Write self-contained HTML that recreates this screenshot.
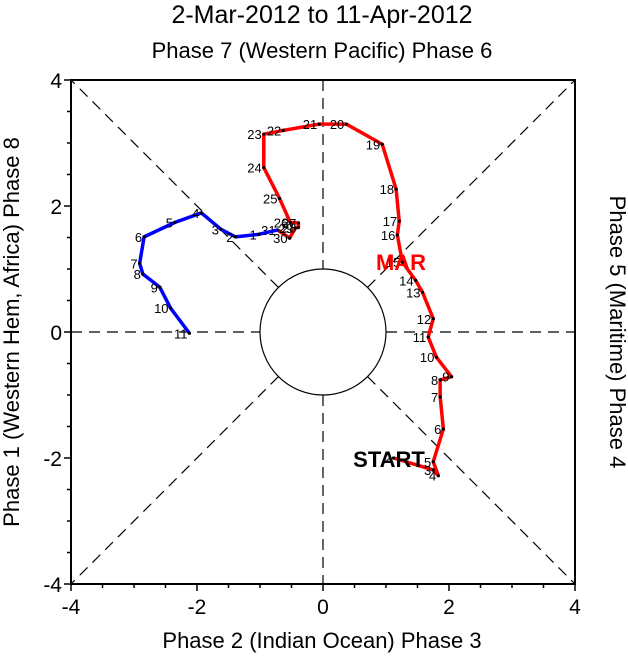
<!DOCTYPE html>
<html><head><meta charset="utf-8"><style>
body{margin:0;background:#fff}
svg{display:block;font-family:"Liberation Sans",Arial,sans-serif}
</style></head><body>
<svg id="c" width="628" height="656" viewBox="0 0 628 656">
<text x="322" y="23" font-size="25" text-anchor="middle">2-Mar-2012 to 11-Apr-2012</text>
<text x="322" y="58" font-size="22" text-anchor="middle">Phase 7 (Western Pacific) Phase 6</text>
<text x="322" y="648" font-size="22" text-anchor="middle">Phase 2 (Indian Ocean) Phase 3</text>
<text transform="translate(19,332) rotate(-90)" font-size="22" text-anchor="middle">Phase 1 (Western Hem, Africa) Phase 8</text>
<text transform="translate(610,332) rotate(90)" font-size="22" text-anchor="middle">Phase 5 (Maritime) Phase 4</text>
<g id="grid"></g>
<g id="ticks"></g>
<g id="series"></g>
<rect x="71" y="80" width="504" height="504" fill="none" stroke="#000" stroke-width="2"/>
</svg>
<script>
const ticks=[-4,-2,0,2,4];
const marX=[1.12,1.75,1.83,1.75,1.91,1.86,1.86,2.04,1.80,1.67,1.75,1.58,1.47,1.26,1.18,1.21,1.16,0.94,0.37,-0.06,-0.63,-0.94,-0.94,-0.69,-0.52,-0.39,-0.39,-0.44,-0.53,-0.72];
const marY=[-2.00,-2.19,-2.28,-2.06,-1.54,-1.03,-0.76,-0.71,-0.40,-0.08,0.21,0.63,0.82,1.11,1.54,1.76,2.27,2.98,3.30,3.30,3.20,3.14,2.61,2.12,1.74,1.73,1.66,1.65,1.49,1.62];
const marDays=[2,3,4,5,6,7,8,9,10,11,12,13,14,15,16,17,18,19,20,21,22,23,24,25,26,27,28,29,30,31];
const aprX=[-1.02,-1.39,-1.62,-1.93,-2.35,-2.84,-2.91,-2.86,-2.59,-2.42,-2.12];
const aprY=[1.55,1.51,1.63,1.89,1.74,1.51,1.09,0.92,0.71,0.38,-0.02];
const aprDays=[1,2,3,4,5,6,7,8,9,10,11];
const L=71,R=575,T=80,B=584;
const sx=v=>L+(v+4)/8*(R-L), sy=v=>B-(v+4)/8*(B-T);
const NS="http://www.w3.org/2000/svg";
function mk(t,a,p){const e=document.createElementNS(NS,t);for(const k in a)e.setAttribute(k,a[k]);p.appendChild(e);return e;}
const g=document.getElementById('grid'),tk=document.getElementById('ticks'),s=document.getElementById('series');
const cx=sx(0),cy=sy(0),r=sx(1)-sx(0);
const dash={stroke:'#000','stroke-width':1.2,'stroke-dasharray':'11 7',fill:'none'};
let e;
e=mk('line',Object.assign({x1:L,y1:cy,x2:cx-r,y2:cy},dash),g);
e=mk('line',Object.assign({x1:cx+r,y1:cy,x2:R,y2:cy},dash),g);
e=mk('line',Object.assign({x1:cx,y1:T,x2:cx,y2:cy-r},dash),g);
e=mk('line',Object.assign({x1:cx,y1:cy+r,x2:cx,y2:B},dash),g);
const d=r/Math.SQRT2;
[[-1,-1,L,T],[1,-1,R,T],[-1,1,L,B],[1,1,R,B]].forEach(([a,b,x,y])=>{
 e=mk('line',Object.assign({x1:cx+a*d,y1:cy+b*d,x2:x,y2:y},dash),g);
 });
e=mk('circle',{cx:cx,cy:cy,r:r,fill:'#fff',stroke:'#000','stroke-width':1.2},g);

for(let v=-4;v<=4.001;v+=0.5){
 const maj=Math.abs(v-Math.round(v/2)*2)<1e-6, len=maj?7:4;
 mk('line',{x1:sx(v),y1:B,x2:sx(v),y2:B+len,stroke:'#000','stroke-width':1.5},tk);
 mk('line',{x1:L,y1:sy(v),x2:L-len,y2:sy(v),stroke:'#000','stroke-width':1.5},tk);
}
ticks.forEach(v=>{
 e=mk('text',{x:sx(v),y:B+30,'font-size':21,'text-anchor':'middle'},tk);e.textContent=v<0?'-'+(-v):v;
 
 e=mk('text',{x:L-9,y:sy(v)+8,'font-size':21,'text-anchor':'end'},tk);e.textContent=v<0?'-'+(-v):v;
 
});
function series(X,Y,D,col,name,startX,startY){
 let pts=X.map((x,i)=>sx(x)+','+sy(Y[i]));
 if(startX!==undefined)pts.unshift(sx(startX)+','+sy(startY));
 e=mk('polyline',{points:pts.join(' '),fill:'none',stroke:col,'stroke-width':3.5,'stroke-linejoin':'round'},s);
 
 X.forEach((x,i)=>{
  e=mk('circle',{cx:sx(x),cy:sy(Y[i]),r:1.6,fill:'#000'},s);
  
  e=mk('text',{x:sx(x)-2,y:sy(Y[i])+5,'font-size':13,'text-anchor':'end'},s);e.textContent=D[i];
  
 });
}
series(marX,marY,marDays,'#f00','march');
series(aprX,aprY,aprDays,'#00f','april',marX[marX.length-1],marY[marY.length-1]);
e=mk('text',{x:401,y:270,'font-size':22,'font-weight':'bold',fill:'#f00','text-anchor':'middle'},s);e.textContent='MAR';

e=mk('text',{x:389,y:467,'font-size':22,'font-weight':'bold',fill:'#000','text-anchor':'middle'},s);e.textContent='START';

</script>
</body></html>
